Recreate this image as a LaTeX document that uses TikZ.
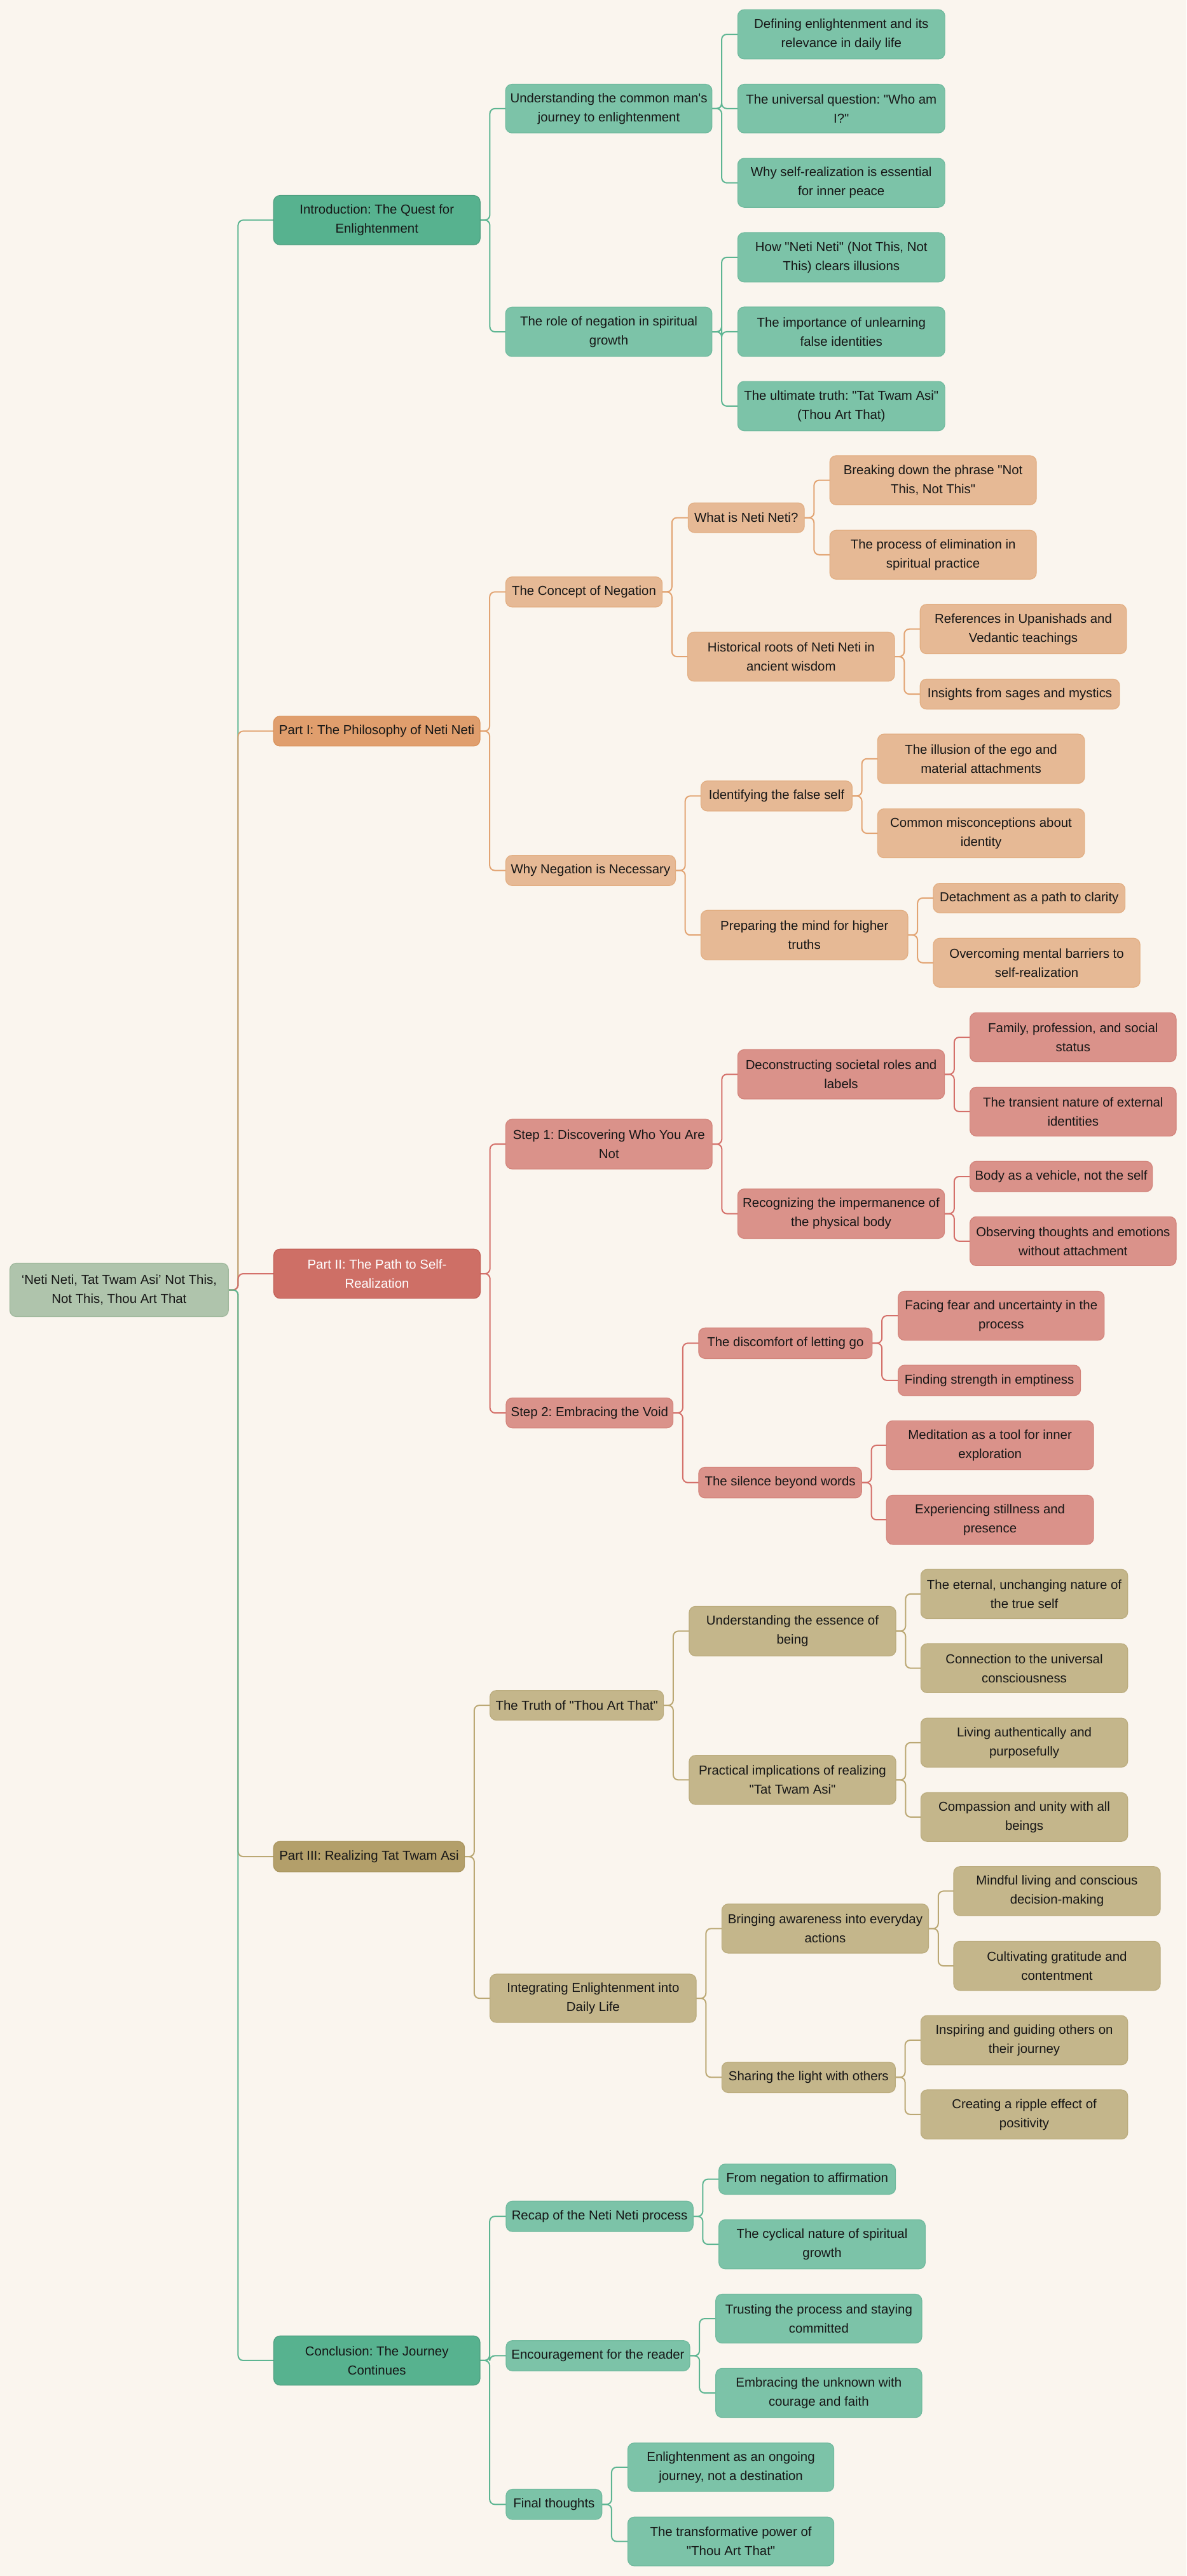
\documentclass[tikz,border=0pt]{standalone}
\usepackage{fontspec}
\newfontfamily\nf{Liberation Sans}
\usetikzlibrary{backgrounds}
\definecolor{bg}{HTML}{FAF5EE}
\definecolor{txt}{HTML}{161616}
\definecolor{G1}{HTML}{57B28F}\definecolor{G1d}{HTML}{4E9F80}
\definecolor{G2}{HTML}{7CC3A8}\definecolor{G2d}{HTML}{70BA9E}
\definecolor{Gl}{HTML}{5DB592}
\definecolor{O1}{HTML}{E09E6D}\definecolor{O1d}{HTML}{D99159}
\definecolor{O2}{HTML}{E6B995}\definecolor{O2d}{HTML}{E2AE82}
\definecolor{Ol}{HTML}{E2A473}
\definecolor{R1}{HTML}{CE6F66}\definecolor{R1d}{HTML}{C25E55}
\definecolor{R2}{HTML}{DA928A}\definecolor{R2d}{HTML}{D3847B}
\definecolor{Rl}{HTML}{D4706A}
\definecolor{Y1}{HTML}{B39F6A}\definecolor{Y1d}{HTML}{A8935B}
\definecolor{Y2}{HTML}{C4B68B}\definecolor{Y2d}{HTML}{BBAC7E}
\definecolor{Yl}{HTML}{BBA874}
\definecolor{RT}{HTML}{AFC4AC}\definecolor{RTd}{HTML}{9FB89C}
\newcommand\nd[7]{\node[#6, minimum width={(#4-#2)*1.29225pt}, minimum height={(#5-#3)*1.29225pt}] (#1) at ({(#2+#4)/2},{(#3+#5)/2}) {#7};}
\newcommand\cn[3]{\draw[conn,#3] (#1.east) -- ++(5.9,0) |- (#2.west);}
\tikzset{
  nb/.style={rounded corners=5pt, inner sep=0pt, outer sep=0pt, align=center,
    font=\nf\frenchspacing\fontsize{10.2}{15}\selectfont, text=txt, line width=0.6pt},
  rootbox/.style={nb, fill=RT, draw=RTd},
  ga/.style={nb, fill=G1, draw=G1d}, gb/.style={nb, fill=G2, draw=G2d},
  oa/.style={nb, fill=O1, draw=O1d}, ob/.style={nb, fill=O2, draw=O2d},
  ra/.style={nb, fill=R1, draw=R1d, text=white}, rb/.style={nb, fill=R2, draw=R2d},
  ya/.style={nb, fill=Y1, draw=Y1d}, yb/.style={nb, fill=Y2, draw=Y2d},
  conn/.style={line width=1pt, rounded corners=4pt},
  cg/.style={draw=Gl}, co/.style={draw=Ol}, cr/.style={draw=Rl}, cy/.style={draw=Yl}
}
\begin{document}
\begin{tikzpicture}[x=1.29225pt, y={(0pt,-1.29225pt)}]
\useasboundingbox (0,0) rectangle (722.04,1568.2);
% root and level 1
\nd{r}{6}{769}{139}{801.5}{rootbox}{‘Neti Neti, Tat Twam Asi’ Not This,\\Not This, Thou Art That}
\nd{i1}{166.5}{119}{292.2}{149}{ga}{Introduction: The Quest for\\Enlightenment}
\nd{p1}{166.5}{436}{292.1}{454.2}{oa}{Part I: The Philosophy of Neti Neti}
\nd{p2}{166.6}{760.4}{292.3}{790.4}{ra}{Part II: The Path to Self-\\Realization}
\nd{p3}{166.5}{1121}{282.7}{1139.5}{ya}{Part III: Realizing Tat Twam Asi}
\nd{c1}{166.6}{1422}{292.1}{1452}{ga}{Conclusion: The Journey\\Continues}
% intro
\nd{i11}{307.7}{51.3}{433.3}{80.9}{gb}{Understanding the common man's\\journey to enlightenment}
\nd{i111}{449}{5.9}{575}{35.9}{gb}{Defining enlightenment and its\\relevance in daily life}
\nd{i112}{449}{51.3}{575}{80.9}{gb}{The universal question: "Who am\\I?"}
\nd{i113}{449}{96.4}{575}{126.2}{gb}{Why self-realization is essential\\for inner peace}
\nd{i12}{307.7}{187}{433.3}{217}{gb}{The role of negation in spiritual\\growth}
\nd{i121}{449}{141.6}{575}{171.7}{gb}{How "Neti Neti" (Not This, Not\\This) clears illusions}
\nd{i122}{449}{186.9}{575}{217}{gb}{The importance of unlearning\\false identities}
\nd{i123}{449}{232.2}{575}{262.2}{gb}{The ultimate truth: "Tat Twam Asi"\\(Thou Art That)}
% part I
\nd{p11}{307.8}{351.2}{403}{369.5}{ob}{The Concept of Negation}
\nd{p111}{418.8}{306.1}{489.5}{324.2}{ob}{What is Neti Neti?}
\nd{p1111}{505}{277.4}{630.7}{307.3}{ob}{Breaking down the phrase "Not\\This, Not This"}
\nd{p1112}{505}{322.8}{630.7}{352.6}{ob}{The process of elimination in\\spiritual practice}
\nd{p112}{418.5}{384.8}{544.4}{414.7}{ob}{Historical roots of Neti Neti in\\ancient wisdom}
\nd{p1121}{560}{367.9}{685.5}{398}{ob}{References in Upanishads and\\Vedantic teachings}
\nd{p1122}{560}{413.4}{681.3}{431.7}{ob}{Insights from sages and mystics}
\nd{p12}{307.8}{520.7}{411.1}{539.1}{ob}{Why Negation is Necessary}
\nd{p121}{426.6}{475.4}{518.6}{493.7}{ob}{Identifying the false self}
\nd{p1211}{534.1}{446.9}{660}{476.9}{ob}{The illusion of the ego and\\material attachments}
\nd{p1212}{534.1}{492.4}{660}{522.2}{ob}{Common misconceptions about\\identity}
\nd{p122}{426.6}{554.2}{552.5}{584.3}{ob}{Preparing the mind for higher\\truths}
\nd{p1221}{568}{537.7}{684.7}{555.7}{ob}{Detachment as a path to clarity}
\nd{p1222}{568}{571.2}{693.8}{601}{ob}{Overcoming mental barriers to\\self-realization}
% part II
\nd{p21}{307.8}{681.4}{433.4}{711.6}{rb}{Step 1: Discovering Who You Are\\Not}
\nd{p211}{449}{639}{574.8}{669}{rb}{Deconstructing societal roles and\\labels}
\nd{p2111}{590.3}{616.5}{715.8}{646.4}{rb}{Family, profession, and social\\status}
\nd{p2112}{590.3}{661.8}{715.8}{691.6}{rb}{The transient nature of external\\identities}
\nd{p212}{449}{723.8}{574.8}{753.9}{rb}{Recognizing the impermanence of\\the physical body}
\nd{p2121}{590.3}{707}{701.3}{725.4}{rb}{Body as a vehicle, not the self}
\nd{p2122}{590.3}{740.7}{715.8}{770.5}{rb}{Observing thoughts and emotions\\without attachment}
\nd{p22}{308}{851}{409.6}{869.3}{rb}{Step 2: Embracing the Void}
\nd{p221}{425.2}{808.4}{530.8}{827}{rb}{The discomfort of letting go}
\nd{p2211}{546.6}{786}{672}{815.9}{rb}{Facing fear and uncertainty in the\\process}
\nd{p2212}{546.6}{831.1}{657.6}{849.6}{rb}{Finding strength in emptiness}
\nd{p222}{425.2}{893.2}{524.4}{911.9}{rb}{The silence beyond words}
\nd{p2221}{539.5}{864.9}{665.5}{894.8}{rb}{Meditation as a tool for inner\\exploration}
\nd{p2222}{539.5}{910.2}{665.5}{940.2}{rb}{Experiencing stillness and\\presence}
% part III
\nd{p31}{298.2}{1029.1}{403.8}{1047.2}{yb}{The Truth of "Thou Art That"}
\nd{p311}{419.4}{977.9}{545.2}{1008.1}{yb}{Understanding the essence of\\being}
\nd{p3111}{560.4}{955.4}{686.3}{985.3}{yb}{The eternal, unchanging nature of\\the true self}
\nd{p3112}{560.4}{1000.6}{686.3}{1030.5}{yb}{Connection to the universal\\consciousness}
\nd{p312}{419.4}{1068.6}{545.2}{1098.5}{yb}{Practical implications of realizing\\"Tat Twam Asi"}
\nd{p3121}{560.4}{1045.9}{686.3}{1075.8}{yb}{Living authentically and\\purposefully}
\nd{p3122}{560.4}{1091.3}{686.3}{1121}{yb}{Compassion and unity with all\\beings}
\nd{p32}{298.2}{1201.8}{423.7}{1231.2}{yb}{Integrating Enlightenment into\\Daily Life}
\nd{p321}{439.3}{1159.1}{565.1}{1189}{yb}{Bringing awareness into everyday\\actions}
\nd{p3211}{580.4}{1136.3}{706.1}{1166.2}{yb}{Mindful living and conscious\\decision-making}
\nd{p3212}{580.4}{1181.8}{706.1}{1211.7}{yb}{Cultivating gratitude and\\contentment}
\nd{p322}{439.3}{1255.3}{544.9}{1273.9}{yb}{Sharing the light with others}
\nd{p3221}{560.4}{1227}{686.3}{1257}{yb}{Inspiring and guiding others on\\their journey}
\nd{p3222}{560.4}{1272.2}{686.3}{1302.2}{yb}{Creating a ripple effect of\\positivity}
% conclusion
\nd{c11}{308}{1340}{421.8}{1358.5}{gb}{Recap of the Neti Neti process}
\nd{c111}{437.5}{1317.4}{545}{1335.8}{gb}{From negation to affirmation}
\nd{c112}{437.5}{1351.3}{563.1}{1381.2}{gb}{The cyclical nature of spiritual\\growth}
\nd{c12}{308}{1424.9}{419.8}{1443.3}{gb}{Encouragement for the reader}
\nd{c121}{435.6}{1396.6}{561}{1426.4}{gb}{Trusting the process and staying\\committed}
\nd{c122}{435.6}{1441.8}{561}{1471.7}{gb}{Embracing the unknown with\\courage and faith}
\nd{c13}{308}{1515.4}{366.3}{1533.8}{gb}{Final thoughts}
\nd{c131}{382.1}{1487.2}{507.5}{1516.7}{gb}{Enlightenment as an ongoing\\journey, not a destination}
\nd{c132}{382.1}{1532.3}{507.5}{1562}{gb}{The transformative power of\\"Thou Art That"}
\begin{scope}[on background layer]
\fill[bg] (0,0) rectangle (722.04,1568.2);
\cn{r}{i1}{cg}\cn{r}{p1}{co}\cn{r}{p2}{cr}\cn{r}{p3}{cy}\cn{r}{c1}{cg}
\cn{i1}{i11}{cg}\cn{i1}{i12}{cg}
\cn{i11}{i111}{cg}\cn{i11}{i112}{cg}\cn{i11}{i113}{cg}
\cn{i12}{i121}{cg}\cn{i12}{i122}{cg}\cn{i12}{i123}{cg}
\cn{p1}{p11}{co}\cn{p1}{p12}{co}
\cn{p11}{p111}{co}\cn{p11}{p112}{co}
\cn{p111}{p1111}{co}\cn{p111}{p1112}{co}
\cn{p112}{p1121}{co}\cn{p112}{p1122}{co}
\cn{p12}{p121}{co}\cn{p12}{p122}{co}
\cn{p121}{p1211}{co}\cn{p121}{p1212}{co}
\cn{p122}{p1221}{co}\cn{p122}{p1222}{co}
\cn{p2}{p21}{cr}\cn{p2}{p22}{cr}
\cn{p21}{p211}{cr}\cn{p21}{p212}{cr}
\cn{p211}{p2111}{cr}\cn{p211}{p2112}{cr}
\cn{p212}{p2121}{cr}\cn{p212}{p2122}{cr}
\cn{p22}{p221}{cr}\cn{p22}{p222}{cr}
\cn{p221}{p2211}{cr}\cn{p221}{p2212}{cr}
\cn{p222}{p2221}{cr}\cn{p222}{p2222}{cr}
\cn{p3}{p31}{cy}\cn{p3}{p32}{cy}
\cn{p31}{p311}{cy}\cn{p31}{p312}{cy}
\cn{p311}{p3111}{cy}\cn{p311}{p3112}{cy}
\cn{p312}{p3121}{cy}\cn{p312}{p3122}{cy}
\cn{p32}{p321}{cy}\cn{p32}{p322}{cy}
\cn{p321}{p3211}{cy}\cn{p321}{p3212}{cy}
\cn{p322}{p3221}{cy}\cn{p322}{p3222}{cy}
\cn{c1}{c11}{cg}\cn{c1}{c12}{cg}\cn{c1}{c13}{cg}
\cn{c11}{c111}{cg}\cn{c11}{c112}{cg}
\cn{c12}{c121}{cg}\cn{c12}{c122}{cg}
\cn{c13}{c131}{cg}\cn{c13}{c132}{cg}
\end{scope}
\end{tikzpicture}
\end{document}
